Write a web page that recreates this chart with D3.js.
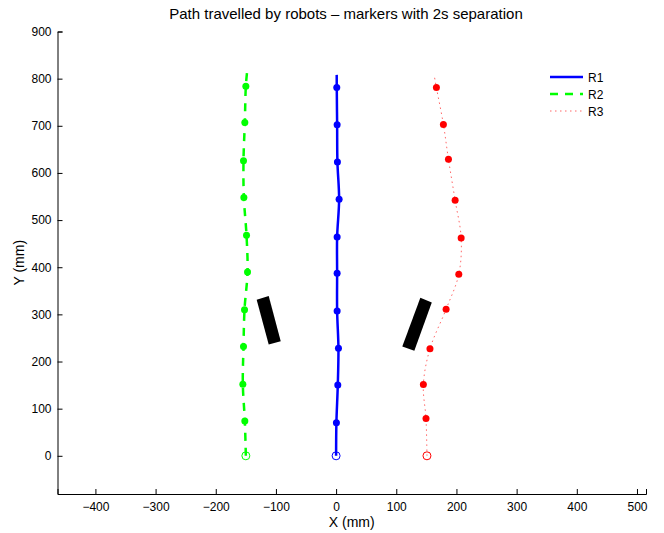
<!DOCTYPE html>
<html>
<head>
<meta charset="utf-8">
<script src="https://cdn.jsdelivr.net/npm/d3@7"></script>
<style>
  body { margin: 0; background: #fff; }
  svg text { font-family: "Liberation Sans", Arial, sans-serif; }
</style>
</head>
<body>
<div id="container"></div>
<script>
// width and height
var width = 664;
var height = 533;

// axis ticks
var xTicks = [-400, -300, -200, -100, 0, 100, 200, 300, 400, 500];
var yTicks = [0, 100, 200, 300, 400, 500, 600, 700, 800, 900];

// robot paths (mm), start -> end
var r1Path = [[0, 0], [0.5, 70], [2.8, 150], [3.9, 228], [1.7, 307], [1.7, 387], [1.7, 464], [5, 544], [2.2, 623], [1.7, 702], [1.1, 781], [1, 808]];
var r2Path = [[-150, 0], [-151.7, 74], [-155, 152], [-153.9, 232], [-152.2, 310], [-147.2, 390], [-148.9, 468], [-153.3, 548], [-153.9, 626], [-151.7, 707], [-150, 784], [-148, 814]];
var r3Path = [[151, 0], [149.4, 79], [145, 151], [156, 227], [182.8, 311], [203.9, 385], [207.8, 462], [197.8, 542], [186.7, 629], [178.3, 703], [166.7, 781], [163, 807]];

// markers every 2s (skip start point, drawn as open circle)
var r1Marks = r1Path.slice(1, 11);
var r2Marks = r2Path.slice(1, 11);
var r3Marks = r3Path.slice(1, 11);

// obstacles (corner points, mm)
var obstacle1 = [[-132, 331], [-112, 339], [-92, 243], [-112, 236]];
var obstacle2 = [[140, 335], [159, 325], [130, 223], [110, 232]];

var margin = {left: 57.5, right: 18, top: 31.5, bottom: 39};

var x = d3.scaleLinear()
          .domain([-463, 515])
          .range([margin.left, width - margin.right]);
var y = d3.scaleLinear()
          .domain([-81, 900])
          .range([height - margin.bottom, margin.top]);

var svg = d3.select("#container")
            .append("svg")
            .attr("width", width)
            .attr("height", height);

// axes (ticks inward)
svg.append("g")
   .attr("transform", "translate(0," + (height - margin.bottom) + ")")
   .call(d3.axisBottom(x).tickValues(xTicks).tickSize(-5).tickPadding(8)
           .tickFormat(function(d) { return d < 0 ? "\u2212" + Math.abs(d) : d; }))
   .call(function(g) {
     g.select(".domain").attr("stroke", "#000");
     g.selectAll("text").style("font-size", "12px").attr("fill", "#000");
   });

svg.append("g")
   .attr("transform", "translate(" + margin.left + ",0)")
   .call(d3.axisLeft(y).tickValues(yTicks).tickSize(-5).tickPadding(6))
   .call(function(g) {
     g.select(".domain").attr("stroke", "#000");
     g.selectAll("text").style("font-size", "12px").attr("fill", "#000");
   });

// labels
svg.append("text")
   .attr("x", 346).attr("y", 19)
   .style("text-anchor", "middle")
   .style("font-size", "15px")
   .text("Path travelled by robots \u2013 markers with 2s separation");

svg.append("text")
   .attr("x", (x(-463) + x(515)) / 2).attr("y", 527)
   .style("text-anchor", "middle")
   .style("font-size", "14px")
   .text("X (mm)");

svg.append("text")
   .attr("transform", "rotate(-90)")
   .attr("x", -(y(-81) + y(900)) / 2).attr("y", 24)
   .style("text-anchor", "middle")
   .style("font-size", "14px")
   .text("Y (mm)");

// obstacles
[obstacle1, obstacle2].forEach(function(o) {
  svg.append("polygon")
     .attr("points", o.map(function(p) { return x(p[0]) + "," + y(p[1]); }).join(" "))
     .attr("fill", "#000");
});

var line = d3.line()
             .x(function(d) { return x(d[0]); })
             .y(function(d) { return y(d[1]); })
             .curve(d3.curveCatmullRom);

var robots = [
  {name: "R1", path: r1Path, marks: r1Marks, color: "#0000ff", width: 2.5, dash: null, opacity: 1},
  {name: "R2", path: r2Path, marks: r2Marks, color: "#00ff00", width: 2.5, dash: "8,7", opacity: 1},
  {name: "R3", path: r3Path, marks: r3Marks, color: "#ff0000", width: 1, dash: "1.5,3.5", opacity: 0.6}
];

robots.forEach(function(r) {
  svg.append("path")
     .datum(r.path)
     .attr("d", line)
     .attr("fill", "none")
     .attr("stroke", r.color)
     .attr("stroke-width", r.width)
     .attr("stroke-opacity", r.opacity)
     .attr("stroke-dasharray", r.dash);

  svg.selectAll(null)
     .data(r.marks)
     .enter().append("circle")
     .attr("cx", function(d) { return x(d[0]); })
     .attr("cy", function(d) { return y(d[1]); })
     .attr("r", 3.5)
     .attr("fill", r.color);

  svg.append("circle")
     .attr("cx", x(r.path[0][0]))
     .attr("cy", y(r.path[0][1]))
     .attr("r", 4)
     .attr("fill", "none")
     .attr("stroke", r.color)
     .attr("stroke-width", 1);
});

// legend
var legend = svg.append("g").attr("transform", "translate(550,77)");
robots.forEach(function(r, i) {
  legend.append("line")
        .attr("x1", 0).attr("x2", 33)
        .attr("y1", i * 17).attr("y2", i * 17)
        .attr("stroke", r.color)
        .attr("stroke-width", r.width)
        .attr("stroke-opacity", r.opacity)
        .attr("stroke-dasharray", r.dash);
  legend.append("text")
        .attr("x", 38).attr("y", i * 17 + 4.5)
        .style("font-size", "12px")
        .text(r.name);
});
</script>
</body>
</html>
